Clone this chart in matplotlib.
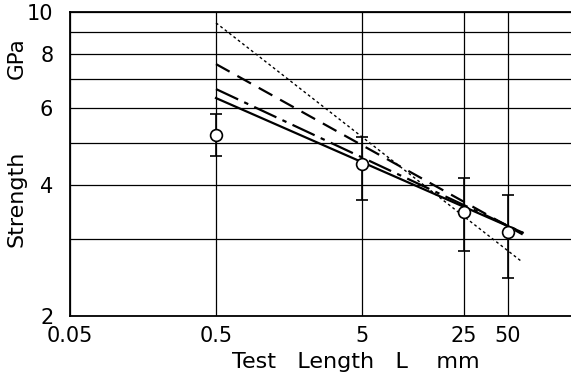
import numpy as np
import matplotlib
matplotlib.use("Agg")
import matplotlib.pyplot as plt
from matplotlib.ticker import FixedLocator, FixedFormatter, NullLocator

# * Measured strengths (GPa) at each test length (mm)
test_length = [0.5, 5, 25, 50]
strength_mean = [5.21, 4.47, 3.47, 3.12]
strength_hi = [5.83, 5.16, 4.15, 3.80]
strength_lo = [4.67, 3.70, 2.82, 2.45]

# * Fitted lines, read at their two end points
fit_x = [0.5, 63]
fit_x_dotted = [0.5, 61]
fit_solid = [6.34, 3.11]
fit_dashdot = [6.65, 3.11]
fit_dashed = [7.59, 3.08]
fit_dotted = [9.44, 2.68]

x_ticks = [0.05, 0.5, 5, 25, 50]
x_tick_labels = ["0.05", "0.5", "5", "25", "50"]
y_grid = [2, 3, 4, 5, 6, 7, 8, 9, 10]
y_tick_labels = ["2", "", "4", "", "6", "", "8", "", "10"]

fig = plt.figure(figsize=(5.71, 3.78), dpi=100)
ax = fig.add_axes([70 / 571, 1 - 316 / 378, 1 - 70 / 571, 304 / 378])

ax.set_xscale("log")
ax.set_yscale("log")
ax.set_xlim(0.05, 135)
ax.set_ylim(2, 10)

ax.xaxis.set_major_locator(FixedLocator(x_ticks))
ax.xaxis.set_major_formatter(FixedFormatter(x_tick_labels))
ax.xaxis.set_minor_locator(NullLocator())
ax.yaxis.set_major_locator(FixedLocator(y_grid))
ax.yaxis.set_major_formatter(FixedFormatter(y_tick_labels))
ax.yaxis.set_minor_locator(NullLocator())

ax.grid(True, color="black", linewidth=0.9)
ax.tick_params(length=0, labelsize=15)
ax.tick_params(axis="x", pad=7)
ax.tick_params(axis="y", pad=12)
for side in ["left", "bottom", "top"]:
    ax.spines[side].set_linewidth(1.3)
ax.spines["right"].set_visible(False)

ax.plot(fit_x, fit_solid, color="black", linewidth=1.6, linestyle="-")
ax.plot(fit_x, fit_dashdot, color="black", linewidth=1.6, linestyle=(0, (11, 3, 2, 3)))
ax.plot(fit_x, fit_dashed, color="black", linewidth=1.6, linestyle=(0, (7, 4)))
ax.plot(fit_x_dotted, fit_dotted, color="black", linewidth=1.0, linestyle=(0, (2, 2)))

err_lo = np.array(strength_mean) - np.array(strength_lo)
err_hi = np.array(strength_hi) - np.array(strength_mean)
ax.errorbar(test_length, strength_mean, yerr=[err_lo, err_hi], fmt="o",
            color="black", markerfacecolor="white", markeredgecolor="black",
            markersize=8.5, markeredgewidth=1.2, elinewidth=1.2, capsize=4,
            capthick=1.2, zorder=5)

fig.text(356 / 571, 1 - 368 / 378, "Test   Length   L    mm", fontsize=16,
         ha="center", va="baseline")
fig.text(17 / 571, 1 - 199 / 378, "Strength", rotation=90, fontsize=16,
         ha="center", va="center")
fig.text(17 / 571, 1 - 58 / 378, "GPa", rotation=90, fontsize=15.5,
         ha="center", va="center")

fig.savefig("out.png", dpi=100)
